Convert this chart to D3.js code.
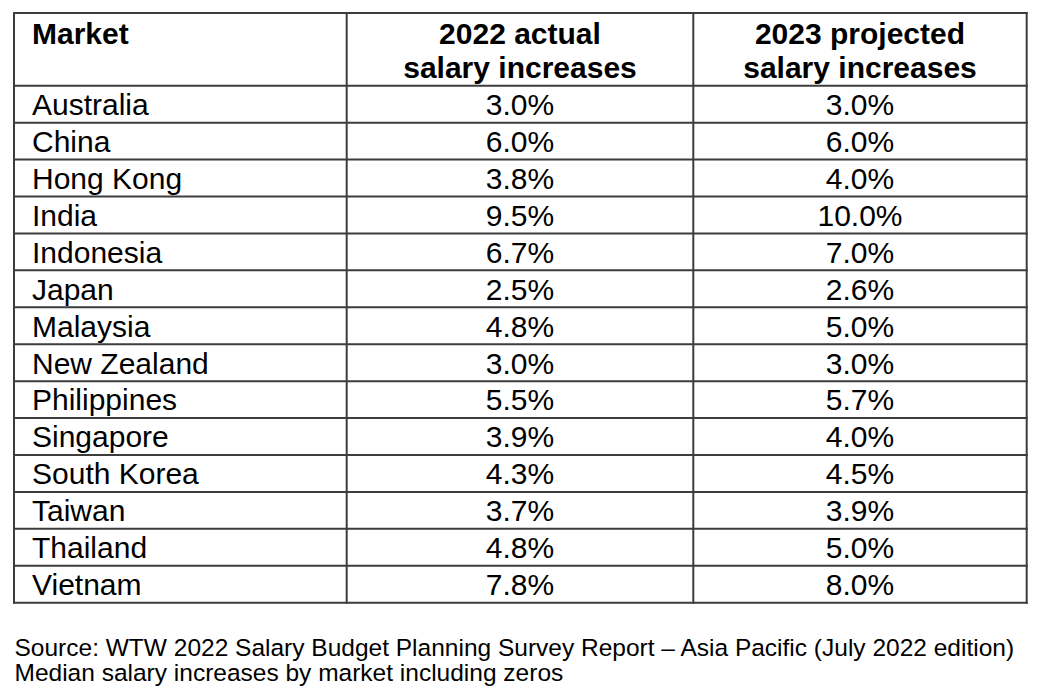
<!DOCTYPE html>
<html>
<head>
<meta charset="utf-8">
<script src="https://cdn.jsdelivr.net/npm/d3@7"></script>
<style>
  html, body { margin: 0; padding: 0; background: #ffffff; }
  svg { display: block; }
  text { font-family: "Liberation Sans", Arial, sans-serif; fill: #000; }
</style>
</head>
<body>
<svg id="chart" width="1044" height="698"></svg>
<script>
// ---- data ----
const markets = ["Australia", "China", "Hong Kong", "India", "Indonesia", "Japan", "Malaysia",
  "New Zealand", "Philippines", "Singapore", "South Korea", "Taiwan", "Thailand", "Vietnam"];
const actual2022 = [3.0, 6.0, 3.8, 9.5, 6.7, 2.5, 4.8, 3.0, 5.5, 3.9, 4.3, 3.7, 4.8, 7.8];
const projected2023 = [3.0, 6.0, 4.0, 10.0, 7.0, 2.6, 5.0, 3.0, 5.7, 4.0, 4.5, 3.9, 5.0, 8.0];
const headers = [["Market"], ["2022 actual", "salary increases"], ["2023 projected", "salary increases"]];
const notes = [
  "Source: WTW 2022 Salary Budget Planning Survey Report \u2013 Asia Pacific (July 2022 edition)",
  "Median salary increases by market including zeros"
];

// ---- layout ----
const svg = d3.select("#chart");
const tLeft = 14, tRight = 1026.7, tTop = 13, headerBottom = 85.7, tBottom = 602.7;
const colEdges = [tLeft, 346.7, 693.3, tRight];
const lineColor = "#3d3d3d";
const fmt = v => d3.format(".1f")(v) + "%";

const y = d3.scaleBand().domain(markets).range([headerBottom, tBottom]);
const col = d3.scaleOrdinal().domain([0, 1, 2]).range([0, 1, 2].map(i => (colEdges[i] + colEdges[i + 1]) / 2));

const rows = markets.map((m, i) => ({ market: m, a: actual2022[i], p: projected2023[i] }));

// grid lines
const g = svg.append("g");
const hLines = [tTop, headerBottom].concat(markets.map(m => y(m) + y.bandwidth()));
g.selectAll("line.h").data(hLines).join("line")
  .attr("class", "h")
  .attr("x1", tLeft - 1).attr("x2", tRight + 1)
  .attr("y1", d => d).attr("y2", d => d)
  .attr("stroke", lineColor).attr("stroke-width", 2);
g.selectAll("line.v").data(colEdges).join("line")
  .attr("class", "v")
  .attr("x1", d => d).attr("x2", d => d)
  .attr("y1", tTop - 1).attr("y2", tBottom + 1)
  .attr("stroke", lineColor).attr("stroke-width", 2);

// header
const hdr = svg.append("g").attr("font-size", 30);
headers.forEach((lines, ci) => {
  lines.forEach((t, li) => {
    hdr.append("text")
      .attr("x", ci === 0 ? 32 : col(ci))
      .attr("y", 43.5 + li * 34)
      .attr("text-anchor", ci === 0 ? "start" : "middle")
      .attr("font-weight", "bold")
      .text(t);
  });
});

// body
const body = svg.append("g").attr("font-size", 30);
const rowG = body.selectAll("g.row").data(rows).join("g").attr("class", "row")
  .attr("transform", d => `translate(0,${y(d.market) + 29.3})`);
rowG.append("text").attr("x", 32).text(d => d.market);
rowG.append("text").attr("x", col(1)).attr("text-anchor", "middle").text(d => fmt(d.a));
rowG.append("text").attr("x", col(2)).attr("text-anchor", "middle").text(d => fmt(d.p));

// notes
svg.append("g").attr("font-size", 24.5)
  .selectAll("text").data(notes).join("text")
  .attr("x", 14.5)
  .attr("y", (d, i) => 656 + i * 24.5)
  .text(d => d);
</script>
</body>
</html>
